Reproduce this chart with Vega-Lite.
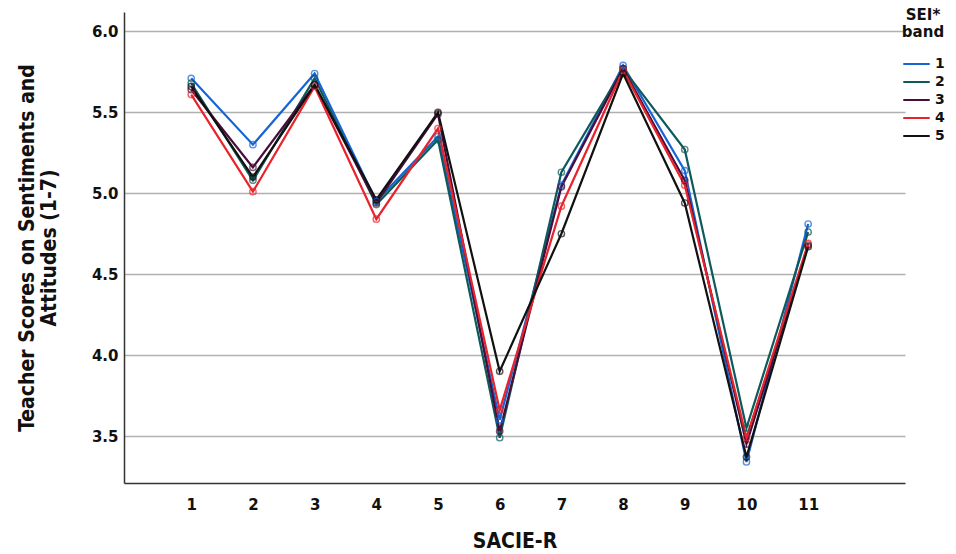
{
  "$schema": "https://vega.github.io/schema/vega-lite/v6.json",
  "width": 781,
  "height": 471,
  "autosize": {"type": "none"},
  "padding": {"left": 124, "top": 12, "right": 51, "bottom": 71},
  "background": "white",
  "config": {
    "view": {"stroke": null},
    "font": "DejaVu Sans"
  },
  "data": {
    "values": [
      {"item": 1, "band": "1", "score": 5.71}, {"item": 1, "band": "2", "score": 5.68}, {"item": 1, "band": "3", "score": 5.64}, {"item": 1, "band": "4", "score": 5.61}, {"item": 1, "band": "5", "score": 5.66},
      {"item": 2, "band": "1", "score": 5.30}, {"item": 2, "band": "2", "score": 5.08}, {"item": 2, "band": "3", "score": 5.16}, {"item": 2, "band": "4", "score": 5.01}, {"item": 2, "band": "5", "score": 5.10},
      {"item": 3, "band": "1", "score": 5.74}, {"item": 3, "band": "2", "score": 5.71}, {"item": 3, "band": "3", "score": 5.67}, {"item": 3, "band": "4", "score": 5.66}, {"item": 3, "band": "5", "score": 5.67},
      {"item": 4, "band": "1", "score": 4.95}, {"item": 4, "band": "2", "score": 4.93}, {"item": 4, "band": "3", "score": 4.94}, {"item": 4, "band": "4", "score": 4.84}, {"item": 4, "band": "5", "score": 4.96},
      {"item": 5, "band": "1", "score": 5.35}, {"item": 5, "band": "2", "score": 5.33}, {"item": 5, "band": "3", "score": 5.49}, {"item": 5, "band": "4", "score": 5.40}, {"item": 5, "band": "5", "score": 5.50},
      {"item": 6, "band": "1", "score": 3.60}, {"item": 6, "band": "2", "score": 3.49}, {"item": 6, "band": "3", "score": 3.53}, {"item": 6, "band": "4", "score": 3.66}, {"item": 6, "band": "5", "score": 3.90},
      {"item": 7, "band": "1", "score": 5.05}, {"item": 7, "band": "2", "score": 5.13}, {"item": 7, "band": "3", "score": 5.04}, {"item": 7, "band": "4", "score": 4.92}, {"item": 7, "band": "5", "score": 4.75},
      {"item": 8, "band": "1", "score": 5.79}, {"item": 8, "band": "2", "score": 5.77}, {"item": 8, "band": "3", "score": 5.77}, {"item": 8, "band": "4", "score": 5.76}, {"item": 8, "band": "5", "score": 5.74},
      {"item": 9, "band": "1", "score": 5.14}, {"item": 9, "band": "2", "score": 5.27}, {"item": 9, "band": "3", "score": 5.08}, {"item": 9, "band": "4", "score": 5.05}, {"item": 9, "band": "5", "score": 4.94},
      {"item": 10, "band": "1", "score": 3.34}, {"item": 10, "band": "2", "score": 3.55}, {"item": 10, "band": "3", "score": 3.45}, {"item": 10, "band": "4", "score": 3.49}, {"item": 10, "band": "5", "score": 3.37},
      {"item": 11, "band": "1", "score": 4.81}, {"item": 11, "band": "2", "score": 4.76}, {"item": 11, "band": "3", "score": 4.68}, {"item": 11, "band": "4", "score": 4.69}, {"item": 11, "band": "5", "score": 4.67}
    ]
  },
  "encoding": {
    "x": {
      "field": "item", "type": "quantitative",
      "scale": {"domain": [-0.09, 12.57], "nice": false, "zero": false},
      "axis": {
        "title": "SACIE-R", "values": [1,2,3,4,5,6,7,8,9,10,11],
        "grid": false, "ticks": false, "domainColor": "#333", "domainWidth": 1.5,
        "labelFont": "DejaVu Sans", "labelFontWeight": "bold", "labelFontSize": 15, "labelColor": "#111", "labelPadding": 14,
        "titleFont": "DejaVu Sans Condensed", "titleFontWeight": "bold", "titleFontSize": 21, "titleColor": "#111", "titlePadding": 18
      }
    },
    "y": {
      "field": "score", "type": "quantitative",
      "scale": {"domain": [3.21, 6.12], "nice": false, "zero": false},
      "axis": {
        "title": ["Teacher Scores on Sentiments and", "Attitudes (1-7)"],
        "values": [3.5, 4.0, 4.5, 5.0, 5.5, 6.0], "format": ".1f",
        "grid": true, "gridColor": "#b0b0b0", "gridWidth": 1.5, "ticks": false,
        "domainColor": "#333", "domainWidth": 1.5,
        "labelFont": "DejaVu Sans", "labelFontWeight": "bold", "labelFontSize": 15, "labelColor": "#111", "labelPadding": 6,
        "titleFont": "DejaVu Sans Condensed", "titleFontWeight": "bold", "titleFontSize": 21, "titleColor": "#111", "titlePadding": 32, "titleLineHeight": 22
      }
    },
    "color": {
      "field": "band", "type": "nominal",
      "scale": {"domain": ["1","2","3","4","5"], "range": ["#1565d8", "#0d5a5a", "#4a0d3a", "#e8232b", "#111111"]},
      "legend": {
        "title": ["SEI*", "band"], "orient": "none", "legendX": 778, "legendY": -4,
        "titleFont": "DejaVu Sans", "titleFontWeight": "bold", "titleFontSize": 15, "titleAlign": "center", "titleAnchor": "middle", "titleLineHeight": 17, "titleColor": "#111", "titlePadding": 16,
        "symbolType": "stroke", "symbolStrokeWidth": 4, "symbolSize": 700, "clipHeight": 16,
        "labelFont": "DejaVu Sans", "labelFontWeight": "bold", "labelFontSize": 14, "labelColor": "#111",
        "rowPadding": 2, "labelOffset": 4,
        "encode": {"symbols": {"update": {"strokeWidth": {"value": 4}}}}
      }
    }
  },
  "layer": [
    {
      "mark": {"type": "line"},
      "encoding": {
        "strokeWidth": {"field": "band", "type": "nominal", "scale": {"domain": ["1","2","3","4","5"], "range": [2.2, 2.2, 2.4, 2.2, 3]}, "legend": null}
      }
    },
    {
      "mark": {"type": "point", "filled": false, "size": 40, "strokeWidth": 1.4}
    }
  ]
}
